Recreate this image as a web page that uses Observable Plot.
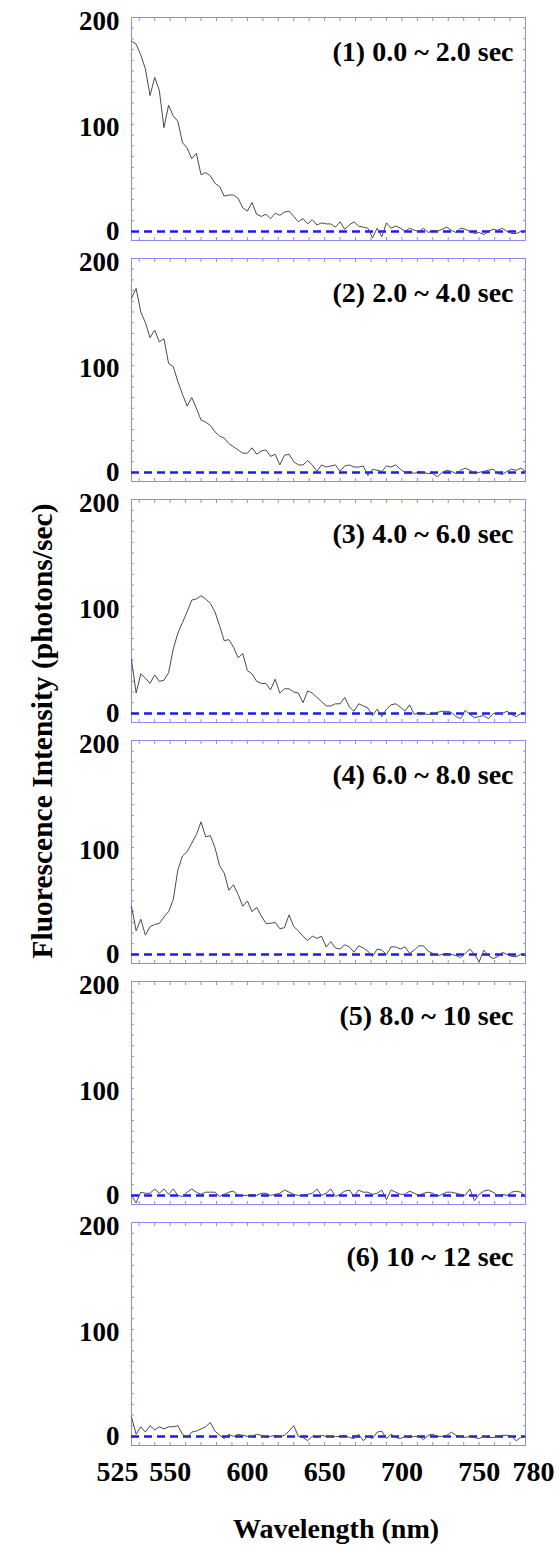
<!DOCTYPE html>
<html><head><meta charset="utf-8">
<script src="https://cdn.jsdelivr.net/npm/d3@7"></script>
<script src="https://cdn.jsdelivr.net/npm/@observablehq/plot@0.6"></script>
<style>body{margin:0;background:#fff;}</style>
</head><body><div id="chart"></div>
<script>
const wavelength = [
525,528,531,534,537,540,543,546,549,552,
555,558,561,564,567,570,573,576,579,582,
585,588,591,594,597,600,603,606,609,612,
615,618,621,624,627,630,633,636,639,642,
645,648,651,654,657,660,663,666,669,672,
675,678,681,684,687,690,693,696,699,702,
705,708,711,714,717,720,723,726,729,732,
735,738,741,744,747,750,753,756,759,762,
765,768,771,774,777,780];

const panel1 = [
178,175,165,152,127,144,132,97,118,108,
103,83,78,68,73,53,55,52,45,42,
33,34,34,31,22,19,27,16,14,16,
12,17,15,18,19,14,9,12,7,11,
6,8,7,7,4,9,2,6,9,5,
4,3,-6,3,-5,8,3,5,3,0,
3,1,0,3,-1,1,0,2,4,1,
-1,3,2,0,-2,-1,-3,0,2,1,
3,0,-2,-2,0,0];

const panel2 = [
163,172,150,140,126,133,122,125,102,99,
85,73,62,70,60,49,47,44,38,34,
32,27,24,21,18,18,23,17,20,21,
15,17,7,16,17,10,7,7,11,7,
1,7,5,6,7,1,6,7,5,5,
6,-3,3,2,1,6,5,7,3,0,
1,-1,1,0,-1,-1,-4,0,2,1,
-1,2,4,2,-1,0,1,2,3,-1,
-2,1,3,2,4,1];

const panel3 = [
50,19,37,33,28,36,30,31,38,60,
75,85,95,106,107,110,107,103,95,82,
68,69,62,52,56,40,37,30,28,28,
22,32,19,23,23,20,19,10,21,19,
15,11,7,7,9,9,15,6,2,9,
7,5,-2,4,-3,4,8,9,6,2,
8,-1,1,0,-1,-1,1,2,2,1,
-3,-5,3,-1,-4,-3,-2,-5,0,0,
0,2,-1,-3,0,0];

const panel4 = [
45,22,33,18,26,28,29,35,40,51,
79,92,96,104,112,124,110,111,100,83,
76,60,65,56,45,50,40,44,36,29,
29,30,24,25,37,26,22,17,13,17,
15,17,7,12,6,5,9,7,2,8,
6,3,-2,5,4,0,7,7,5,7,
1,4,8,8,3,1,-1,0,1,0,
-1,-3,1,5,0,-7,4,-1,-4,-2,
2,0,-2,-2,0,-1];

const panel5 = [
0,-7,3,2,2,6,2,6,1,6,
0,-1,3,6,3,1,3,3,3,-1,
1,3,4,0,0,0,1,0,2,2,
0,1,2,5,3,1,0,0,1,2,
6,0,2,6,-1,1,4,5,-1,5,
3,3,1,2,5,-4,5,3,1,1,
4,2,0,2,3,2,-1,1,3,3,
2,1,0,6,-5,1,4,5,3,0,
1,0,3,4,3,-1];

const panel6 = [
18,2,9,4,10,6,9,7,9,9,
10,2,-1,4,5,7,9,13,5,1,
-2,2,0,2,1,0,0,2,1,-1,
0,1,0,1,5,10,0,-1,-4,0,
-1,1,0,0,0,0,1,-1,-2,2,
-4,0,-2,4,5,-2,2,-1,-2,0,
-1,0,0,-3,1,2,0,0,1,4,
1,0,-1,0,-1,-2,0,-1,-1,0,
1,1,0,-4,-1,0];

const panelTitles = [
  "(1) 0.0 ~ 2.0 sec",
  "(2) 2.0 ~ 4.0 sec",
  "(3) 4.0 ~ 6.0 sec",
  "(4) 6.0 ~ 8.0 sec",
  "(5) 8.0 ~ 10 sec",
  "(6) 10 ~ 12 sec"
];

const yTopLabel = [200];
const yMidLabel = [100];
const yZeroLabel = [0];
const xTickLabels = [550, 600, 650, 700, 750];
const xFirstLabel = [525];
const xLastLabel = [780];
const xMinorTicks = [530,540,550,560,570,580,590,600,610,620,630,640,650,660,670,680,690,700,710,720,730,740,750,760,770];
const yMinorTicks = [0,10,20,30,40,50,60,70,80,90,100,110,120,130,140,150,160,170,180,190,200];
const yTitle = "Fluorescence Intensity (photons/sec)";
const xTitle = "Wavelength (nm)";

const series = [panel1, panel2, panel3, panel4, panel5, panel6];
const rows = series.flatMap((vals, i) => vals.map((v, j) => ({panel: i + 1, wavelength: wavelength[j], value: v})));
const titles = panelTitles.map((t, i) => ({panel: i + 1, title: t}));

const frameColor = "#8a8aff";
const font = "'Liberation Serif', 'Times New Roman', serif";
const yLab = {anchor: "left", tickSize: 0, tickPadding: 12, fontSize: 27, label: null, facetAnchor: null};
const xLab = {anchor: "bottom", tickSize: 0, tickPadding: 16, fontSize: 28, label: null};

const chart = Plot.plot({
  width: 560,
  height: 1548,
  marginTop: 17,
  marginBottom: 103,
  marginLeft: 131,
  marginRight: 35,
  style: {fontFamily: font, fontWeight: "bold", background: "#fff", color: "#000"},
  x: {domain: [525, 780]},
  y: {domain: [-8.5, 200]},
  fy: {domain: [1, 2, 3, 4, 5, 6], paddingInner: 0.0747, paddingOuter: 0, round: false, axis: null},
  marks: [
    Plot.frame({stroke: frameColor, strokeWidth: 1}),
    Plot.axisY(yMinorTicks, {anchor: "left", tickSize: 3, dx: 3, stroke: frameColor, fill: "none", label: null, facetAnchor: null}),
    Plot.axisY(yMinorTicks, {anchor: "right", tickSize: 3, dx: -3, stroke: frameColor, fill: "none", label: null, facetAnchor: null}),
    Plot.axisX(xMinorTicks, {anchor: "bottom", tickSize: 3, dy: -3, stroke: frameColor, fill: "none", label: null, facetAnchor: null}),
    Plot.axisX(xMinorTicks, {anchor: "top", tickSize: 3, dy: 3, stroke: frameColor, fill: "none", label: null, facetAnchor: null}),
    Plot.axisY(yTopLabel, {...yLab, dy: 4}),
    Plot.axisY(yMidLabel, {...yLab, dy: 3}),
    Plot.axisY(yZeroLabel, {...yLab, dy: 0}),
    Plot.axisX(xTickLabels, xLab),
    Plot.axisX(xFirstLabel, {...xLab, dx: -14}),
    Plot.axisX(xLastLabel, {...xLab, dx: 8}),
    Plot.ruleY([0], {stroke: "#1a1aff", strokeWidth: 2.5, strokeDasharray: "8,5"}),
    Plot.line(rows, {x: "wavelength", y: "value", fy: "panel", stroke: "#4a4a4a", strokeWidth: 1}),
    Plot.text(titles, {fy: "panel", text: "title", frameAnchor: "top-right", textAnchor: "end", lineAnchor: "middle", dx: -12, dy: 35, fontSize: 28, fill: "#000"})
  ]
});

const svg = d3.select(chart);
svg.append("text")
  .attr("transform", "translate(52,731) rotate(-90)")
  .attr("text-anchor", "middle")
  .attr("font-family", font)
  .attr("font-weight", "bold")
  .attr("font-size", 29.5)
  .attr("fill", "#000")
  .text(yTitle);
svg.append("text")
  .attr("x", 336)
  .attr("y", 1538)
  .attr("text-anchor", "middle")
  .attr("font-family", font)
  .attr("font-weight", "bold")
  .attr("font-size", 28)
  .attr("fill", "#000")
  .text(xTitle);

document.getElementById("chart").appendChild(chart);
</script>
</body></html>
